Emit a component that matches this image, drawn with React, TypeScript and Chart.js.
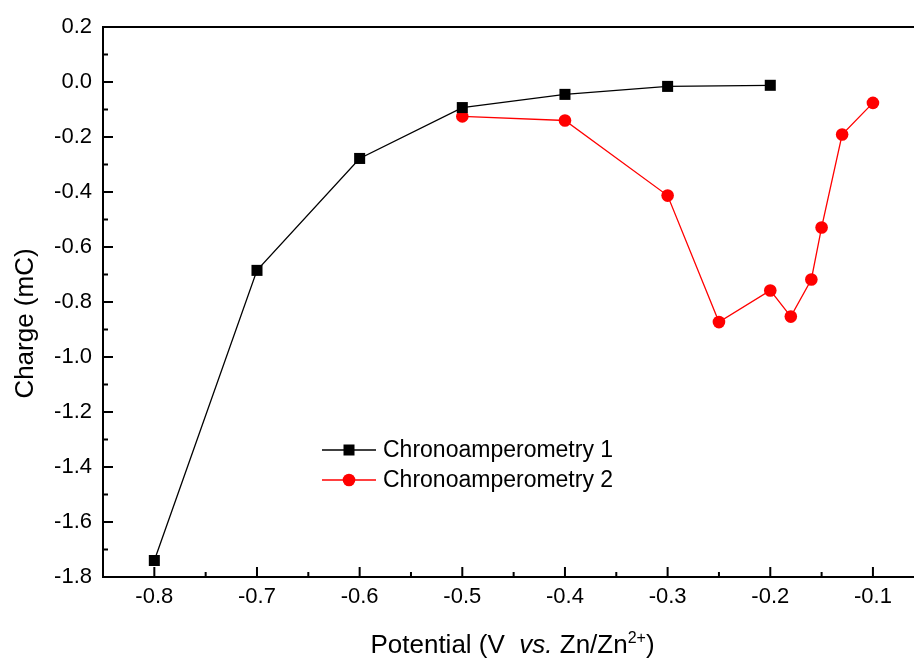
import React, { useEffect, useRef } from "react";
import { Chart, registerables } from "chart.js";

Chart.register(...registerables);

// ---- Data ----
const potential1 = [-0.8, -0.7, -0.6, -0.5, -0.4, -0.3, -0.2];
const charge1 = [-1.74, -0.685, -0.278, -0.093, -0.045, -0.016, -0.012];

const potential2 = [-0.5, -0.4, -0.3, -0.25, -0.2, -0.18, -0.16, -0.15, -0.13, -0.1];
const charge2 = [-0.125, -0.14, -0.413, -0.873, -0.758, -0.853, -0.718, -0.529, -0.191, -0.076];

const seriesLabels = ["Chronoamperometry 1", "Chronoamperometry 2"];
const xTickValues = [-0.8, -0.7, -0.6, -0.5, -0.4, -0.3, -0.2, -0.1];
const yTickValues = [0.2, 0.0, -0.2, -0.4, -0.6, -0.8, -1.0, -1.2, -1.4, -1.6, -1.8];
const yTitle = "Charge (mC)";

const FONT = "'Liberation Sans', Arial, Helvetica, sans-serif";

function mids(arr: number[]) {
  const out: number[] = [];
  for (let i = 0; i < arr.length - 1; i++) out.push((arr[i] + arr[i + 1]) / 2);
  return out;
}

const framePlugin = {
  id: "framePlugin",
  afterDraw(chart: any) {
    const { ctx, chartArea } = chart;
    const { left, right, top, bottom } = chartArea;
    const xs = chart.scales.x;
    const ys = chart.scales.y;
    ctx.save();
    ctx.strokeStyle = "#000";
    ctx.lineWidth = 2;
    ctx.lineCap = "butt";
    ctx.beginPath();
    ctx.moveTo(left, top);
    ctx.lineTo(right, top);
    ctx.moveTo(left, top - 1);
    ctx.lineTo(left, bottom + 1);
    ctx.moveTo(left - 1, bottom);
    ctx.lineTo(right, bottom);
    ctx.stroke();

    // ticks (inward)
    ctx.beginPath();
    xTickValues.forEach((v) => {
      const px = xs.getPixelForValue(v);
      ctx.moveTo(px, bottom);
      ctx.lineTo(px, bottom - 10);
    });
    mids(xTickValues).forEach((v) => {
      const px = xs.getPixelForValue(v);
      ctx.moveTo(px, bottom);
      ctx.lineTo(px, bottom - 5);
    });
    yTickValues.forEach((v) => {
      const py = ys.getPixelForValue(v);
      ctx.moveTo(left, py);
      ctx.lineTo(left + 10, py);
    });
    mids(yTickValues).forEach((v) => {
      const py = ys.getPixelForValue(v);
      ctx.moveTo(left, py);
      ctx.lineTo(left + 5, py);
    });
    ctx.stroke();

    // Y axis title
    ctx.fillStyle = "#000";
    ctx.font = `26px ${FONT}`;
    ctx.save();
    ctx.translate(33, 323.5);
    ctx.rotate(-Math.PI / 2);
    ctx.textAlign = "center";
    ctx.textBaseline = "alphabetic";
    ctx.fillText(yTitle, 0, 0);
    ctx.restore();

    // X axis title with italic + superscript
    const parts = [
      { t: "Potential (V  ", f: `26px ${FONT}`, dy: 0 },
      { t: "vs.", f: `italic 26px ${FONT}`, dy: 0 },
      { t: " Zn/Zn", f: `26px ${FONT}`, dy: 0 },
      { t: "2+", f: `16px ${FONT}`, dy: -10 },
      { t: ")", f: `26px ${FONT}`, dy: 0 },
    ];
    let total = 0;
    const widths = parts.map((p) => {
      ctx.font = p.f;
      const w = ctx.measureText(p.t).width;
      total += w;
      return w;
    });
    let cx = 512.5 - total / 2;
    ctx.textAlign = "left";
    ctx.textBaseline = "alphabetic";
    parts.forEach((p, i) => {
      ctx.font = p.f;
      ctx.fillText(p.t, cx, 653 + p.dy);
      cx += widths[i];
    });

    // Legend
    const rows = [450, 480];
    chart.data.datasets.forEach((ds: any, i: number) => {
      const y = rows[i];
      ctx.strokeStyle = ds.borderColor;
      ctx.lineWidth = ds.borderWidth;
      ctx.beginPath();
      ctx.moveTo(322, y);
      ctx.lineTo(376, y);
      ctx.stroke();
      ctx.fillStyle = ds.pointBackgroundColor;
      if (ds.pointStyle === "rect") {
        ctx.fillRect(349 - 5.5, y - 5.5, 11, 11);
      } else {
        ctx.beginPath();
        ctx.arc(349, y, 6.3, 0, Math.PI * 2);
        ctx.fill();
      }
      ctx.fillStyle = "#000";
      ctx.font = `23px ${FONT}`;
      ctx.textBaseline = "middle";
      ctx.textAlign = "left";
      ctx.fillText(ds.label, 383, y + 1);
    });
    ctx.restore();
  },
};

export default function App() {
  const canvasRef = useRef<HTMLCanvasElement | null>(null);

  useEffect(() => {
    if (!canvasRef.current) return;
    const chart = new Chart(canvasRef.current, {
      type: "line",
      data: {
        datasets: [
          {
            label: seriesLabels[0],
            data: potential1.map((x, i) => ({ x, y: charge1[i] })),
            borderColor: "#000000",
            backgroundColor: "#000000",
            pointBackgroundColor: "#000000",
            pointBorderColor: "#000000",
            borderWidth: 1.3,
            pointStyle: "rect",
            pointRadius: 7.8,
            pointBorderWidth: 0,
            tension: 0,
          },
          {
            label: seriesLabels[1],
            data: potential2.map((x, i) => ({ x, y: charge2[i] })),
            borderColor: "#ff0000",
            backgroundColor: "#ff0000",
            pointBackgroundColor: "#ff0000",
            pointBorderColor: "#ff0000",
            borderWidth: 1.3,
            pointStyle: "circle",
            pointRadius: 6.3,
            pointBorderWidth: 0,
            tension: 0,
          },
        ],
      },
      options: {
        animation: false,
        responsive: false,
        devicePixelRatio: 1,
        layout: { autoPadding: false, padding: { top: 27, right: 0, left: 0, bottom: 0 } },
        plugins: {
          legend: { display: false },
          tooltip: { enabled: false },
        },
        scales: {
          x: {
            type: "linear",
            min: -0.85,
            max: -0.06,
            afterBuildTicks: (scale: any) => {
              scale.ticks = xTickValues.map((v) => ({ value: v }));
            },
            afterFit: (scale: any) => {
              scale.height = 83;
              scale.paddingLeft = 0;
              scale.paddingRight = 0;
            },
            grid: { display: false, drawTicks: false },
            border: { display: false },
            ticks: {
              color: "#000",
              font: { family: FONT, size: 22 },
              padding: 7,
              maxRotation: 0,
              autoSkip: false,
              callback: (v: any) => Number(v).toFixed(1),
            },
          },
          y: {
            type: "linear",
            min: -1.8,
            max: 0.2,
            afterBuildTicks: (scale: any) => {
              scale.ticks = yTickValues.map((v) => ({ value: v }));
            },
            afterFit: (scale: any) => {
              scale.width = 103;
              scale.paddingTop = 0;
              scale.paddingBottom = 0;
            },
            grid: { display: false, drawTicks: false },
            border: { display: false },
            ticks: {
              color: "#000",
              font: { family: FONT, size: 22 },
              padding: 11,
              autoSkip: false,
              callback: (v: any) => {
                const n = Number(v);
                return Math.abs(n) < 1e-9 ? "0.0" : n.toFixed(1);
              },
            },
          },
        },
      },
      plugins: [framePlugin],
    } as any);
    return () => chart.destroy();
  }, []);

  return (
    <div style={{ position: "absolute", left: 0, top: 0, width: 914, height: 660, background: "#fff" }}>
      <canvas ref={canvasRef} width={914} height={660} style={{ width: 914, height: 660, display: "block" }} />
    </div>
  );
}
